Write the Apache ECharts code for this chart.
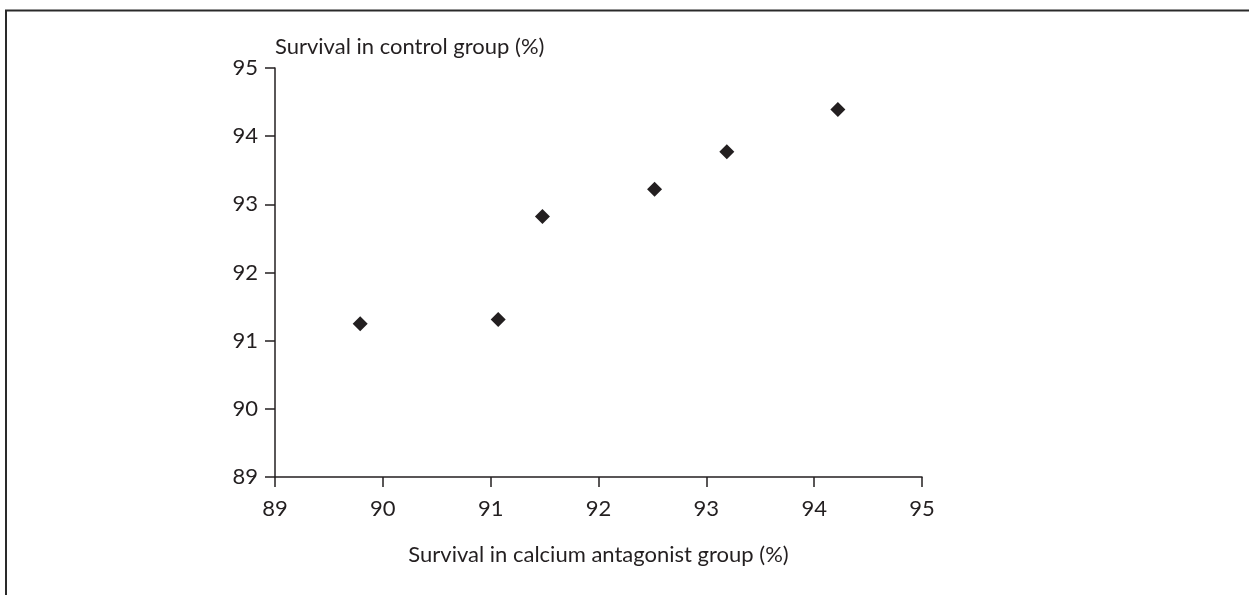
<!DOCTYPE html>
<html>
<head>
<meta charset="utf-8">
<script src="https://cdn.jsdelivr.net/npm/echarts@6/dist/echarts.min.js"></script>
<style>
  html, body { margin: 0; padding: 0; background: #fff; }
  #chart { width: 1249px; height: 595px; }
</style>
</head>
<body>
<div id="chart"></div>
<script>
// Survival rates per trial: calcium antagonist arm vs control arm (%)
const calciumSurvival = [89.79, 91.07, 91.48, 92.52, 93.19, 94.22];
const controlSurvival = [91.25, 91.31, 92.82, 93.22, 93.77, 94.39];

const xTitle = 'Survival in calcium antagonist group (%)';
const yTitle = 'Survival in control group (%)';
const axisMin = 89;
const axisMax = 95;

const ink = '#231f20';
const fontFamily = 'Lato, "Noto Sans", sans-serif';

const points = calciumSurvival.map((x, i) => [x, controlSurvival[i]]);

const chart = echarts.init(document.getElementById('chart'), null, { renderer: 'canvas' });

chart.setOption({
  animation: false,
  backgroundColor: '#fff',
  grid: { left: 275, top: 68, width: 647, height: 409 },
  xAxis: {
    type: 'value',
    min: axisMin,
    max: axisMax,
    interval: 1,
    name: xTitle,
    nameLocation: 'middle',
    nameGap: 67,
    nameTextStyle: { color: ink, fontSize: 22, fontFamily },
    axisLine: { show: true, onZero: false, lineStyle: { color: ink, width: 1.5 } },
    axisTick: { show: true, inside: false, length: 10, lineStyle: { color: ink, width: 1.5 } },
    axisLabel: { color: ink, fontSize: 22, fontFamily, margin: 21 },
    splitLine: { show: false }
  },
  yAxis: {
    type: 'value',
    min: axisMin,
    max: axisMax,
    interval: 1,
    name: yTitle,
    nameLocation: 'end',
    nameGap: 21,
    nameTextStyle: { color: ink, fontSize: 22, fontFamily, align: 'left', verticalAlign: 'middle' },
    axisLine: { show: true, onZero: false, lineStyle: { color: ink, width: 1.5 } },
    axisTick: { show: true, inside: false, length: 10, lineStyle: { color: ink, width: 1.5 } },
    axisLabel: { color: ink, fontSize: 22, fontFamily, margin: 17 },
    splitLine: { show: false }
  },
  series: [{
    type: 'scatter',
    data: points,
    symbol: 'diamond',
    symbolSize: [15, 15],
    itemStyle: { color: ink, opacity: 1 }
  }],
  graphic: [
    {
      type: 'line',
      shape: { x1: 5, y1: 10.5, x2: 1249, y2: 10.5 },
      style: { stroke: '#2a2a2a', lineWidth: 2 }
    },
    {
      type: 'line',
      shape: { x1: 6, y1: 10, x2: 6, y2: 595 },
      style: { stroke: '#2a2a2a', lineWidth: 2 }
    }
  ]
});
</script>
</body>
</html>
